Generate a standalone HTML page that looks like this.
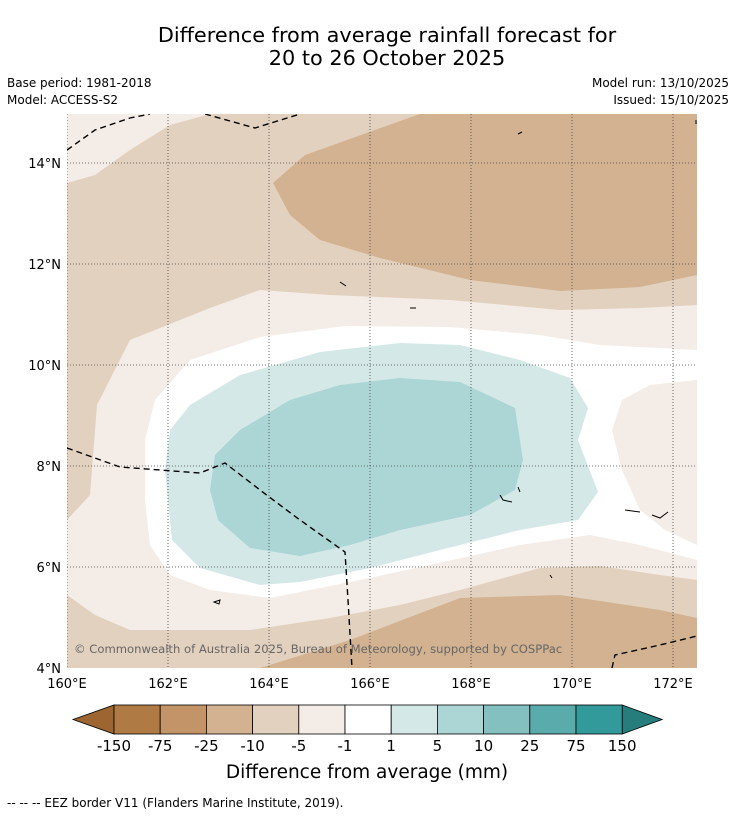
<!DOCTYPE html>
<html><head><meta charset="utf-8"><style>
body{margin:0;background:#fff;font-family:"Liberation Sans","DejaVu Sans",sans-serif;}
svg text{font-family:"DejaVu Sans","Liberation Sans",sans-serif;}
</style></head><body>
<svg width="736" height="816" viewBox="0 0 736 816">
<rect width="736" height="816" fill="#fff"/>
<text x="387" y="42" font-size="20.8" text-anchor="middle">Difference from average rainfall forecast for</text>
<text x="387" y="65" font-size="20.8" text-anchor="middle">20 to 26 October 2025</text>
<text x="7" y="87" font-size="12">Base period: 1981-2018</text>
<text x="7" y="104" font-size="12">Model: ACCESS-S2</text>
<text x="729" y="87" font-size="12" text-anchor="end">Model run: 13/10/2025</text>
<text x="729" y="104" font-size="12" text-anchor="end">Issued: 15/10/2025</text>

<g>
<clipPath id="mc"><rect x="67" y="114" width="630" height="554"/></clipPath>
<g clip-path="url(#mc)">
<rect x="67" y="114" width="630" height="554" fill="#e3d1bf"/>
<path d="M67,114 L67,183 L95,175 L130,150 L170,125 L210,114 Z" fill="#f4ece6"/>
<path d="M67,520 L90,495 L97,405 L130,340 L210,308 L260,290 L330,295 L450,300 L560,310 L640,308 L697,305 L697,580 L660,575 L600,566 L540,568 L460,590 L400,605 L330,618 L250,630 L130,630 L95,615 L67,595 Z" fill="#f4ece6"/>
<path d="M145,440 L155,400 L190,360 L260,337 L345,326 L450,327 L540,335 L600,345 L697,350 L697,560 L640,545 L590,535 L520,545 L430,565 L360,580 L270,598 L210,590 L170,575 L150,545 L145,500 Z" fill="#ffffff"/>
<path d="M622,400 L650,385 L697,380 L697,545 L665,530 L640,510 L622,470 L612,430 Z" fill="#f4ece6"/>
<path d="M165,470 L170,430 L190,405 L240,375 L320,352 L400,343 L460,345 L520,360 L570,378 L588,408 L578,440 L598,492 L578,520 L520,530 L440,550 L370,568 L300,582 L260,585 L200,568 L172,540 Z" fill="#d5e8e8"/>
<path d="M210,490 L215,455 L240,430 L290,400 L340,385 L400,378 L460,382 L515,408 L523,460 L515,490 L470,515 L400,530 L350,545 L300,556 L250,548 L218,520 Z" fill="#acd5d5"/>
<path d="M273,183 L305,155 L420,114 L697,114 L697,275 L640,287 L560,291 L470,280 L380,258 L320,240 L290,215 Z" fill="#d2b290"/>
<path d="M260,668 L350,640 L460,598 L560,595 L660,610 L697,618 L697,668 Z" fill="#d2b290"/>
<g stroke="#444" stroke-width="0.8" stroke-dasharray="1,2" fill="none">
<path d="M67,114V668M168,114V668M269,114V668M370,114V668M471,114V668M572,114V668M673,114V668"/>
<path d="M67,163H697M67,264H697M67,365H697M67,466H697M67,567H697"/>
</g>
<g stroke="#000" stroke-width="1.4" stroke-dasharray="6,4" fill="none">
<path d="M67,150 L95,130 L130,118 L150,114"/>
<path d="M205,114 L255,128 L300,114"/>
<path d="M67,448 L120,467 L200,473 L225,463 L260,490 L300,520 L345,552 L348,600 L352,668"/>
<path d="M612,668 L615,655 L660,645 L697,636"/>
</g>
<g stroke="#000" stroke-width="1" fill="none">
<path d="M625,510 L640,512 M652,515 L660,518 L668,512 M500,495 L503,500 L512,502 M518,487 L520,492 M550,575 L552,578 M214,602 L220,600 L219,604Z M518,134 L522,132 M696,120 L696,124 M340,282 L346,286 M410,308 L416,308"/>
</g>
<text x="74" y="653" font-size="11.6" fill="#666">© Commonwealth of Australia 2025, Bureau of Meteorology, supported by COSPPac</text>
</g>
</g>
<g font-size="13" text-anchor="end">
<text x="61" y="168">14°N</text><text x="61" y="269">12°N</text><text x="61" y="370">10°N</text><text x="61" y="471">8°N</text><text x="61" y="572">6°N</text><text x="61" y="673">4°N</text>
</g>
<g font-size="13" text-anchor="middle">
<text x="67" y="688">160°E</text><text x="168" y="688">162°E</text><text x="269" y="688">164°E</text><text x="370" y="688">166°E</text><text x="471" y="688">168°E</text><text x="572" y="688">170°E</text><text x="673" y="688">172°E</text>
</g>
<g id="cbar"></g>
<text x="367" y="778" font-size="18.5" text-anchor="middle">Difference from average (mm)</text>
<text x="7" y="807" font-size="12">--  --  -- EEZ border V11 (Flanders Marine Institute, 2019).</text>
</svg>
<script>
const levels=["-150","-75","-25","-10","-5","-1","1","5","10","25","75","150"];
const colors=["#b07a44","#c29468","#d2b290","#e3d1bf","#f4ece6","#ffffff","#d5e8e8","#acd5d5","#84c0c0","#5aabab","#329a9a"];
const NS="http://www.w3.org/2000/svg";
const g=document.getElementById('cbar');
const x0=114,w=46.2,y0=705,h=29;
function mk(t,a){const e=document.createElementNS(NS,t);for(const k in a)e.setAttribute(k,a[k]);g.appendChild(e);return e;}
const lt=mk('polygon',{points:`73,${y0+h/2} ${x0},${y0} ${x0},${y0+h}`,fill:'#9d6532',stroke:'#000','stroke-width':0.8});


const xe=x0+w*colors.length;
const rt=mk('polygon',{points:`${xe},${y0} ${xe+40},${y0+h/2} ${xe},${y0+h}`,fill:'#277c7c',stroke:'#000','stroke-width':0.8});


colors.forEach((c,i)=>{
 const r=mk('rect',{x:x0+i*w,y:y0,width:w,height:h,fill:c,stroke:'#000','stroke-width':0.8});
 
 
});
levels.forEach((l,i)=>{
 const t=mk('text',{x:x0+i*w,y:751,'font-size':15,'text-anchor':'middle'});
 t.textContent=l;
 
 
});
</script>
</body></html>
